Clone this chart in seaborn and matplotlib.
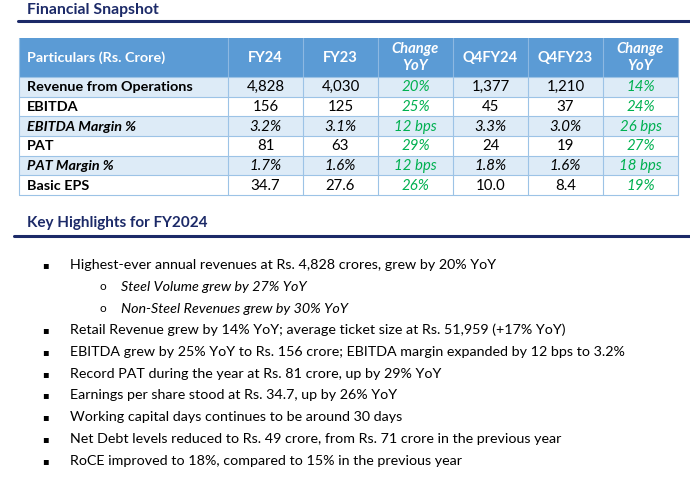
import matplotlib
matplotlib.use("Agg")
import matplotlib.pyplot as plt
from matplotlib.patches import Rectangle
import seaborn as sns

# ---- data ----
columns = ["Particulars (Rs. Crore)", "FY24", "FY23", "Change\nYoY", "Q4FY24", "Q4FY23", "Change\nYoY"]
particulars = ["Revenue from Operations", "EBITDA", "EBITDA Margin %", "PAT", "PAT Margin %", "Basic EPS"]
fy24 = ["4,828", "156", "3.2%", "81", "1.7%", "34.7"]
fy23 = ["4,030", "125", "3.1%", "63", "1.6%", "27.6"]
chg_fy = ["20%", "25%", "12 bps", "29%", "12 bps", "26%"]
q4fy24 = ["1,377", "45", "3.3%", "24", "1.8%", "10.0"]
q4fy23 = ["1,210", "37", "3.0%", "19", "1.6%", "8.4"]
chg_q4 = ["14%", "24%", "26 bps", "27%", "18 bps", "19%"]
italic_rows = [False, False, True, False, True, False]

highlights = [
    (0, "Highest-ever annual revenues at Rs. 4,828 crores, grew by 20% YoY"),
    (1, "Steel Volume grew by 27% YoY"),
    (1, "Non-Steel Revenues grew by 30% YoY"),
    (0, "Retail Revenue grew by 14% YoY; average ticket size at Rs. 51,959 (+17% YoY)"),
    (0, "EBITDA grew by 25% YoY to Rs. 156 crore; EBITDA margin expanded by 12 bps to 3.2%"),
    (0, "Record PAT during the year at Rs. 81 crore, up by 29% YoY"),
    (0, "Earnings per share stood at Rs. 34.7, up by 26% YoY"),
    (0, "Working capital days continues to be around 30 days"),
    (0, "Net Debt levels reduced to Rs. 49 crore, from Rs. 71 crore in the previous year"),
    (0, "RoCE improved to 18%, compared to 15% in the previous year"),
]

# ---- style ----
sns.set_theme(style="white")
plt.rcParams["font.family"] = ["Lato", "DejaVu Sans"]

NAVY = "#1c2a68"
HEAD = "#5b9bd5"
LIGHT = "#ddebf7"
BORDER = "#9cc3e6"
GREEN = "#00b050"

col_edges = [19, 228, 303, 378, 453, 528, 603, 678]
head_top, head_bot = 38, 77
row_h = 19.67

fig = plt.figure(figsize=(6.9, 4.8), dpi=100)
ax = fig.add_axes([0, 0, 1, 1])
ax.set_xlim(0, 690)
ax.set_ylim(480, 0)
ax.axis("off")

# section titles
ax.text(27, 10, "Financial Snapshot", fontsize=11.3, fontweight="bold", color=NAVY, va="center")
ax.plot([18, 690], [20.5, 20.5], color=NAVY, lw=2.2)
ax.text(27, 223, "Key Highlights for FY2024", fontsize=11, fontweight="bold", color=NAVY, va="center")
ax.plot([14, 690], [236, 236], color=NAVY, lw=2.2)

# header
ax.add_patch(Rectangle((col_edges[0], head_top), col_edges[-1] - col_edges[0], head_bot - head_top,
                       facecolor=HEAD, edgecolor="none"))
for i, name in enumerate(columns):
    mid = (head_top + head_bot) / 2
    if i == 0:
        ax.text(27, mid, name, color="white", fontsize=10.4, fontweight="bold", va="center")
    else:
        cx = (col_edges[i] + col_edges[i + 1]) / 2
        style = "italic" if "Change" in name else "normal"
        ax.text(cx, mid, name, color="white", fontsize=10.6, fontweight="bold", style=style,
                ha="center", va="center", linespacing=1.3)
    if i > 0:
        ax.plot([col_edges[i], col_edges[i]], [head_top, head_bot], color="#8db8e2", lw=0.8)

# body
table_cols = [fy24, fy23, chg_fy, q4fy24, q4fy23, chg_q4]
green_cols = [2, 5]
for r, label in enumerate(particulars):
    y0 = head_bot + r * row_h
    face = LIGHT if r % 2 == 0 else "white"
    ax.add_patch(Rectangle((col_edges[0], y0), col_edges[-1] - col_edges[0], row_h,
                           facecolor=face, edgecolor="none"))
    ym = y0 + row_h / 2 + 0.5
    st = "italic" if italic_rows[r] else "normal"
    ax.text(27, ym, label, fontsize=10.4, fontweight="bold", style=st, color="black", va="center")
    for c, vals in enumerate(table_cols):
        cx = (col_edges[c + 1] + col_edges[c + 2]) / 2
        green = c in green_cols
        ax.text(cx, ym, vals[r], fontsize=10.8, color=GREEN if green else "black",
                style="italic" if (green or italic_rows[r]) else "normal",
                ha="center", va="center")

table_bot = head_bot + len(particulars) * row_h
for r in range(len(particulars) + 1):
    y = head_bot + r * row_h
    ax.plot([col_edges[0], col_edges[-1]], [y, y], color=BORDER, lw=0.8)
for x in col_edges:
    ax.plot([x, x], [head_bot, table_bot], color=BORDER, lw=0.8)
ax.plot([col_edges[0], col_edges[0]], [head_top, head_bot], color=BORDER, lw=0.8)
ax.plot([col_edges[-1], col_edges[-1]], [head_top, head_bot], color=BORDER, lw=0.8)

# highlights
line_y = [265, 287, 309, 330, 352, 374, 395, 417, 439, 461]
for (level, txt), y in zip(highlights, line_y):
    if level == 0:
        ax.text(45, y, "\u25aa", fontsize=7, color="black", va="center", ha="center",
                family=["DejaVu Sans"])
        ax.text(70, y, txt, fontsize=10.25, color="black", va="center")
    else:
        ax.text(103, y, "o", fontsize=8.5, color="black", va="center", ha="center")
        ax.text(121, y, txt, fontsize=10.25, style="italic", color="black", va="center")

fig.savefig("out.png", dpi=100, facecolor="white")
